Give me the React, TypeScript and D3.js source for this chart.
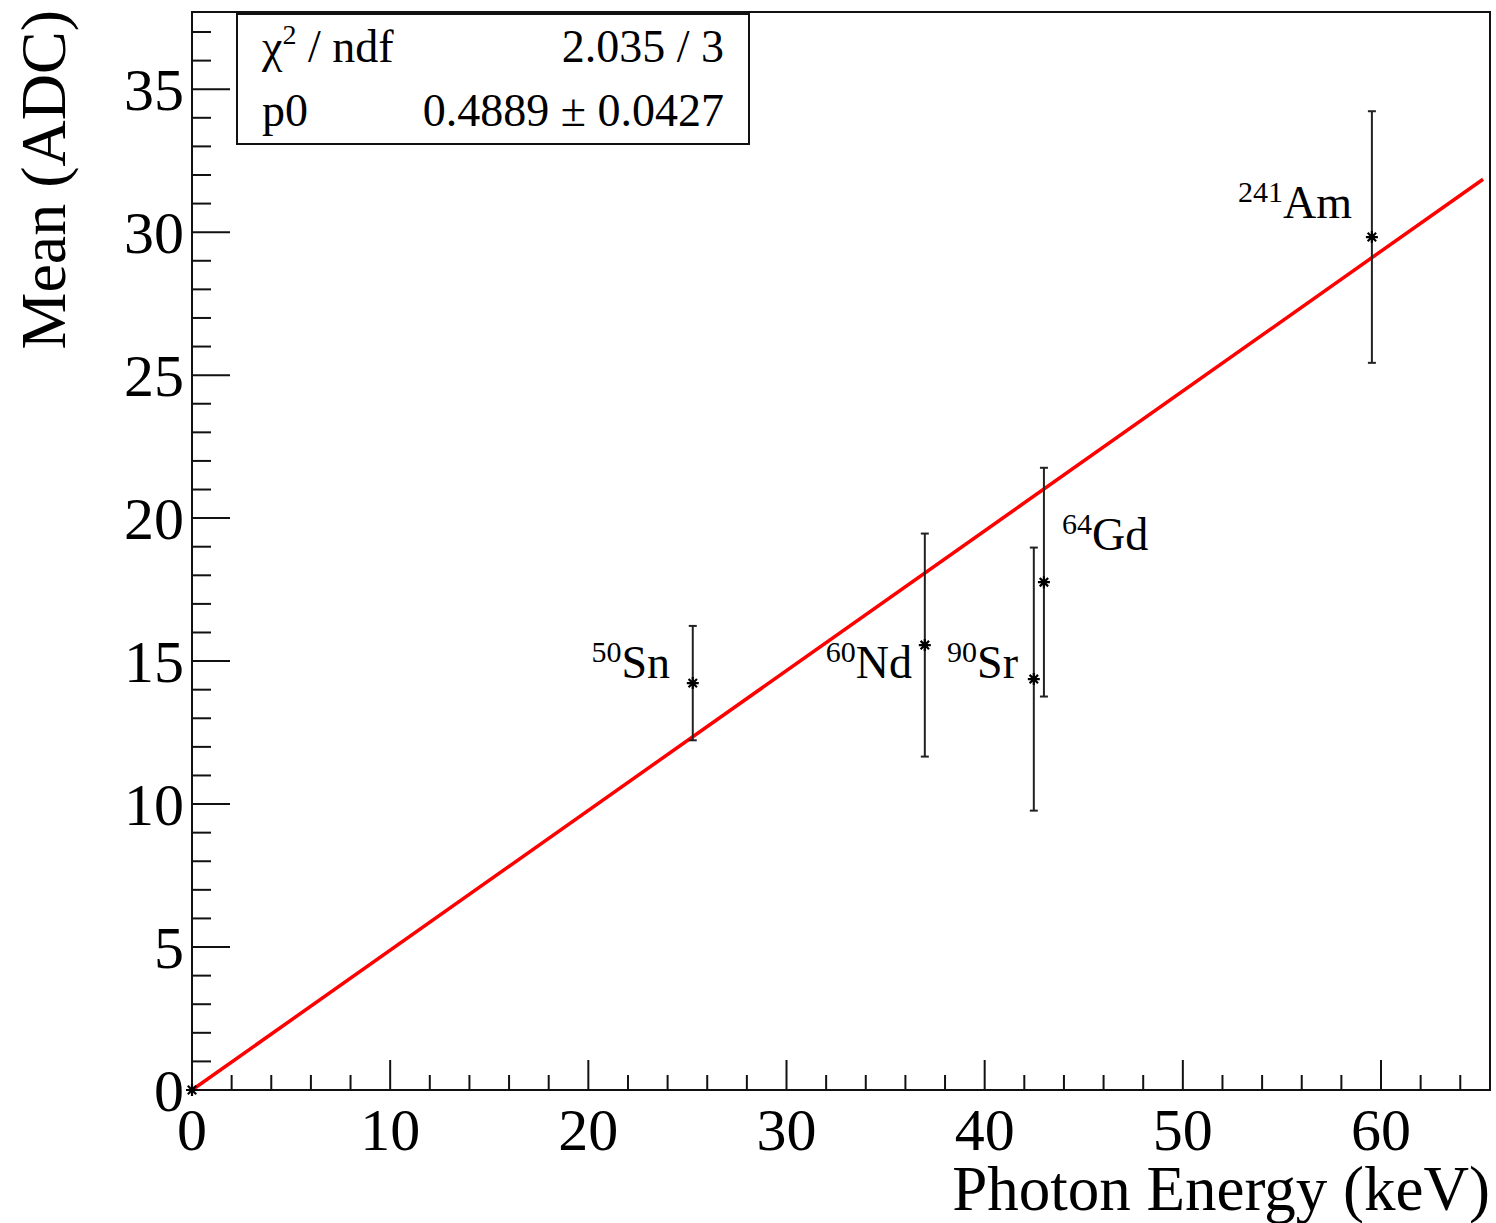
import * as React from "react";
import { useRef, useEffect } from "react";
import * as d3 from "d3";

// measured points: photon energy (keV), mean (ADC), error
const sources = ["", "50|Sn", "60|Nd", "90|Sr", "64|Gd", "241|Am"];
const energies = [0, 25.27, 36.98, 42.48, 42.99, 59.54];
const means = [0, 14.23, 15.56, 14.37, 17.76, 29.83];
const errors = [0, 2.0, 3.9, 4.6, 4.0, 4.4];

const fitP0 = 0.4889;
const fitRange = [0, 65.15];
const statRows = [
  ["χ2 / ndf", "2.035 / 3"],
  ["p0", "0.4889 ± 0.0427"],
];

export default function App() {
  const _ref = useRef(null);
  useEffect(() => {
    const el = _ref.current;
    el.innerHTML = "";
    const W = 1496;
    const H = 1223;
    const frame = { left: 192, right: 1490, top: 12, bottom: 1090 };
    const font = "'Liberation Serif', 'Times New Roman', serif";

    const x = d3.scaleLinear().domain([0, 65.5]).range([frame.left, frame.right]);
    const y = d3.scaleLinear().domain([0, 37.7]).range([frame.bottom, frame.top]);

    const svg = d3
      .select(el)
      .append("svg")
      .attr("width", W)
      .attr("height", H)
      .style("display", "block")
      .style("font-family", font);

    svg.append("rect").attr("width", W).attr("height", H).attr("fill", "white");

    // frame
    svg
      .append("rect")
      .attr("x", frame.left)
      .attr("y", frame.top)
      .attr("width", frame.right - frame.left)
      .attr("height", frame.bottom - frame.top)
      .attr("fill", "none")
      .attr("stroke", "#111")
      .attr("stroke-width", 2);

    // x ticks
    const xMinor = d3.range(0, 65.01, 2);
    svg
      .append("g")
      .selectAll("line")
      .data(xMinor)
      .join("line")
      .attr("x1", (d) => x(d))
      .attr("x2", (d) => x(d))
      .attr("y1", frame.bottom)
      .attr("y2", (d) => (d % 10 === 0 ? frame.bottom - 30 : frame.bottom - 15))
      .attr("stroke", "#111")
      .attr("stroke-width", 2);
    svg
      .append("g")
      .selectAll("text")
      .data(d3.range(0, 61, 10))
      .join("text")
      .attr("x", (d) => x(d))
      .attr("y", 1150)
      .attr("text-anchor", "middle")
      .style("font-size", "60px")
      .text((d) => d);

    // y ticks
    const yMinor = d3.range(0, 37.01, 1);
    svg
      .append("g")
      .selectAll("line")
      .data(yMinor)
      .join("line")
      .attr("x1", frame.left)
      .attr("x2", (d) => (d % 5 === 0 ? frame.left + 38 : frame.left + 19))
      .attr("y1", (d) => y(d))
      .attr("y2", (d) => y(d))
      .attr("stroke", "#111")
      .attr("stroke-width", 2);
    svg
      .append("g")
      .selectAll("text")
      .data(d3.range(0, 36, 5))
      .join("text")
      .attr("x", 184)
      .attr("y", (d) => y(d) + 21)
      .attr("text-anchor", "end")
      .style("font-size", "60px")
      .text((d) => d);

    // axis titles
    svg
      .append("text")
      .attr("x", 1490)
      .attr("y", 1210)
      .attr("text-anchor", "end")
      .style("font-size", "63px")
      .text("Photon Energy (keV)");
    svg
      .append("text")
      .attr("transform", "translate(65,10) rotate(-90)")
      .attr("text-anchor", "end")
      .style("font-size", "64px")
      .text("Mean (ADC)");

    // fit line
    const line = d3
      .line()
      .x((d) => x(d))
      .y((d) => y(fitP0 * d));
    svg
      .append("path")
      .datum(fitRange)
      .attr("d", line)
      .attr("fill", "none")
      .attr("stroke", "#ff0000")
      .attr("stroke-width", 3.5);

    // error bars
    const pts = energies.map((e, i) => ({ e, m: means[i], err: errors[i], lab: sources[i] }));
    const g = svg.append("g").attr("stroke", "#222").attr("stroke-width", 2);
    pts
      .filter((d) => d.err > 0)
      .forEach((d) => {
        g.append("line")
          .attr("x1", x(d.e))
          .attr("x2", x(d.e))
          .attr("y1", y(d.m - d.err))
          .attr("y2", y(d.m + d.err));
        [d.m - d.err, d.m + d.err].forEach((v) => {
          g.append("line")
            .attr("x1", x(d.e) - 4)
            .attr("x2", x(d.e) + 4)
            .attr("y1", y(v))
            .attr("y2", y(v));
        });
      });

    // asterisk markers
    const r = 6;
    const star = `M${-r},0H${r}M0,${-r}V${r}M${-r * 0.7},${-r * 0.7}L${r * 0.7},${r * 0.7}M${-r * 0.7},${r * 0.7}L${r * 0.7},${-r * 0.7}`;
    svg
      .append("g")
      .selectAll("path")
      .data(pts)
      .join("path")
      .attr("transform", (d) => `translate(${x(d.e)},${y(d.m)})`)
      .attr("d", star)
      .attr("stroke", "#000")
      .attr("stroke-width", 2.2)
      .attr("fill", "none");

    // isotope labels
    const labelPos = [
      null,
      { x: 670, y: 678, anchor: "end" },
      { x: 912, y: 678, anchor: "end" },
      { x: 1018, y: 678, anchor: "end" },
      { x: 1062, y: 550, anchor: "start" },
      { x: 1352, y: 218, anchor: "end" },
    ];
    pts.forEach((d, i) => {
      if (!d.lab) return;
      const [mass, el2] = d.lab.split("|");
      const p = labelPos[i];
      const t = svg
        .append("text")
        .attr("x", p.x)
        .attr("y", p.y)
        .attr("text-anchor", p.anchor)
        .style("font-size", "46px");
      t.append("tspan").attr("dy", -16).style("font-size", "30px").text(mass);
      t.append("tspan").attr("dy", 16).text(el2);
    });

    // stats box
    svg
      .append("rect")
      .attr("x", 237)
      .attr("y", 14)
      .attr("width", 512)
      .attr("height", 130)
      .attr("fill", "white")
      .attr("stroke", "#111")
      .attr("stroke-width", 2);
    statRows.forEach((row, i) => {
      const by = 62 + i * 64;
      const left = svg
        .append("text")
        .attr("x", 262)
        .attr("y", by)
        .style("font-size", "46px");
      if (row[0].startsWith("χ2")) {
        left.append("tspan").text("χ");
        left.append("tspan").attr("dy", -18).style("font-size", "28px").text("2");
        left.append("tspan").attr("dy", 18).text(" / ndf");
      } else {
        left.text(row[0]);
      }
      svg
        .append("text")
        .attr("x", 724)
        .attr("y", by)
        .attr("text-anchor", "end")
        .style("font-size", "46px")
        .text(row[1]);
    });
  }, []);

  return (
    <div
      ref={_ref}
      style={{ position: "absolute", left: 0, top: 0, width: 1496, height: 1223 }}
    ></div>
  );
}
